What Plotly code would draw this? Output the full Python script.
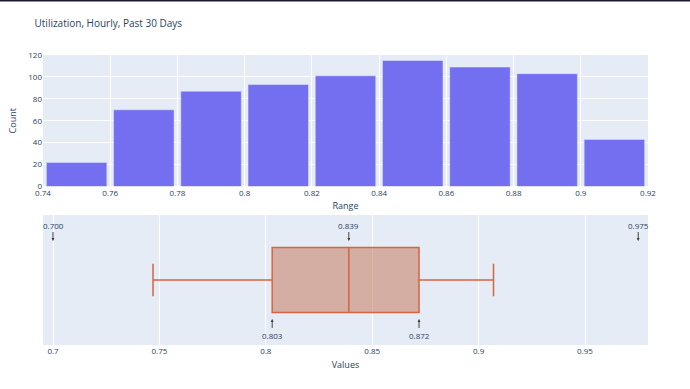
import plotly.graph_objects as go
from plotly.subplots import make_subplots

# Histogram data
bin_edges = [0.74, 0.76, 0.78, 0.80, 0.82, 0.84, 0.86, 0.88, 0.90, 0.92]
counts = [22, 70, 87, 93, 101, 115, 109, 103, 43]

# Box summary data
box_min = 0.700
lower_fence = 0.747
q1 = 0.803
median = 0.839
q3 = 0.872
upper_fence = 0.907
box_max = 0.975

W, H = 690, 389
L, R, T, B = 43, 42, 55, 44
plot_h = H - T - B

centers = [(bin_edges[i] + bin_edges[i + 1]) / 2 for i in range(len(counts))]
widths = [(bin_edges[i + 1] - bin_edges[i]) for i in range(len(counts))]

fig = make_subplots(rows=2, cols=1, vertical_spacing=0.1)

fig.add_trace(go.Bar(x=centers, y=counts, width=[w * 0.9 for w in widths],
                     marker_color="#736ff0", showlegend=False), row=1, col=1)

fig.add_trace(go.Box(q1=[q1], median=[median], q3=[q3], lowerfence=[lower_fence],
                     upperfence=[upper_fence], y=[0], orientation="h", width=0.5,
                     boxpoints=False, line=dict(color="#d4663f", width=1.5),
                     fillcolor="rgba(196,110,80,0.5)", showlegend=False,
                     hoverinfo="skip"), row=2, col=1)

top_dom = [(H - B - 186.5) / plot_h, 1]
bot_dom = [0, (H - B - 215) / plot_h]

tick_font = dict(size=8, color="#2a3f5f")
title_font = dict(size=9, color="#2a3f5f")

fig.update_layout(
    width=W, height=H,
    margin=dict(l=L, r=R, t=T, b=B),
    title=dict(text="Utilization, Hourly, Past 30 Days", x=0.05, xanchor="left",
               y=1 - 23 / H, yanchor="middle", font=dict(size=10, color="#2a3f5f")),
    plot_bgcolor="#E5ECF6", paper_bgcolor="white",
    xaxis=dict(range=[bin_edges[0], bin_edges[-1]], dtick=0.02, tick0=0.74,
               domain=[0, 1], tickfont=tick_font, gridcolor="white",
               title=dict(text="Range", font=title_font, standoff=6)),
    yaxis=dict(domain=top_dom, range=[0, 120], dtick=20, tickfont=tick_font,
               gridcolor="white", zeroline=True, zerolinecolor="white",
               title=dict(text="Count", font=title_font, standoff=10)),
    xaxis2=dict(range=[0.6953, 0.9796], dtick=0.05, tick0=0.7, domain=[0, 1],
                tickfont=tick_font, gridcolor="white", zeroline=False,
                title=dict(text="Values", font=title_font, standoff=6)),
    yaxis2=dict(domain=bot_dom, range=[-0.5, 0.5], showticklabels=False,
                showgrid=False, zeroline=False),
)

ann_font = dict(size=8, color="#2a3f5f")
top_ann = [box_min, median, box_max]
bot_ann = [q1, q3]
for v in top_ann:
    fig.add_annotation(x=v, y=0.3, xref="x2", yref="y2", text=f"{v:.3f}",
                       showarrow=True, ax=0, ay=-16, arrowhead=2, arrowsize=0.6,
                       arrowwidth=1, arrowcolor="#444", font=ann_font)
for v in bot_ann:
    fig.add_annotation(x=v, y=-0.3, xref="x2", yref="y2", text=f"{v:.3f}",
                       showarrow=True, ax=0, ay=16, arrowhead=2, arrowsize=0.6,
                       arrowwidth=1, arrowcolor="#444", font=ann_font)

# dark top border line
fig.add_shape(type="line", xref="paper", yref="paper",
              x0=-L / (W - L - R), x1=1 + R / (W - L - R),
              y0=(H - B - 0.5) / plot_h, y1=(H - B - 0.5) / plot_h,
              line=dict(color="#1a1a2e", width=2))

fig.write_html("out.html", config={"displayModeBar": False},
               post_script="document.body.style.margin='0';document.body.style.overflow='hidden';")
